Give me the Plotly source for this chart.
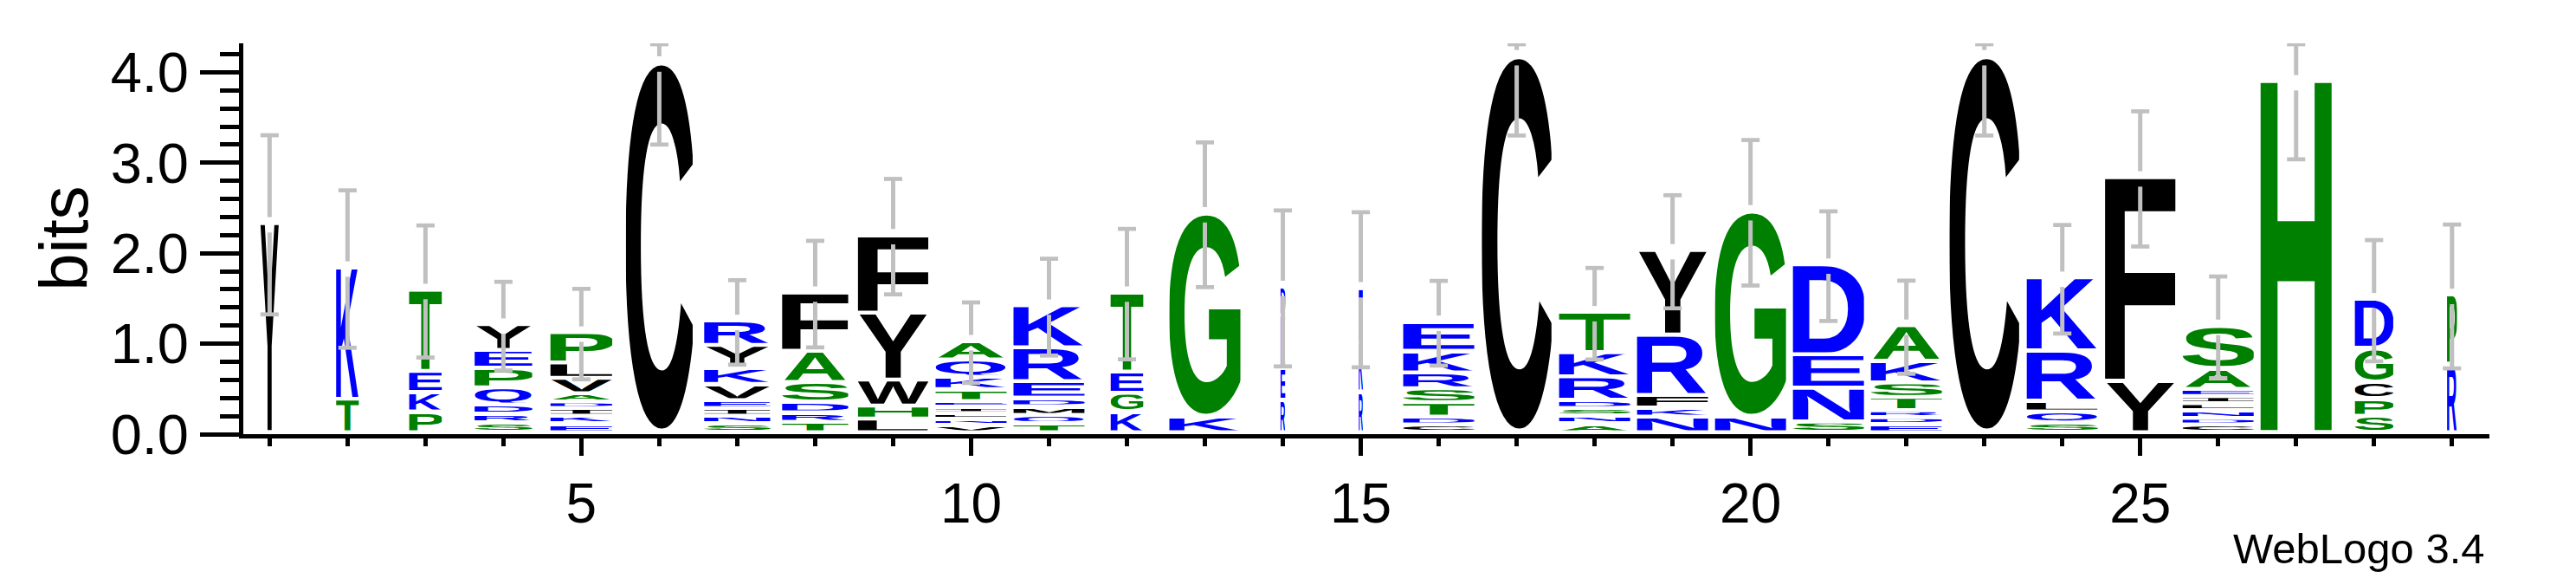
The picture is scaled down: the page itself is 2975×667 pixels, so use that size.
import base64
import plotly.graph_objects as go

# ---------------- data ----------------
positions = list(range(1, 30))
# letters of each stack, bottom -> top
stack_letters = ["Y", "TK", "PKET", "SRDQPEY", "EKIDAVLP", "C", "SNIEVKYR", "TRDSAF",
                 "LHWYF", "VNLIETKQA", "TQMDERK", "KGET", "KG", "REKD", "RKE", "CDTSRKE",
                 "C", "ANSDRKT", "NKFRY", "NG", "SNED", "EDRTSKA", "C", "SQLRK", "YF",
                 "CDNLIEAS", "H", "SPCGD", "RP"]
# letter heights in bits, bottom -> top
stack_heights = [
    [2.314],
    [0.370, 1.455],
    [0.230, 0.214, 0.233, 0.900],
    [0.109, 0.096, 0.102, 0.188, 0.214, 0.201, 0.284],
    [0.096, 0.086, 0.086, 0.073, 0.089, 0.172, 0.169, 0.335],
    [4.091],
    [0.096, 0.086, 0.086, 0.086, 0.179, 0.176, 0.255, 0.271],
    [0.115, 0.105, 0.115, 0.220, 0.345, 0.648],
    [0.150, 0.144, 0.287, 0.740, 0.862],
    [0.080, 0.064, 0.067, 0.067, 0.067, 0.131, 0.137, 0.191, 0.207],
    [0.102, 0.089, 0.096, 0.096, 0.182, 0.373, 0.466],
    [0.230, 0.207, 0.233, 0.878],
    [0.172, 2.253],
    [0.357, 0.351, 0.590, 0.313],
    [0.450, 0.550, 0.596],
    [0.086, 0.086, 0.160, 0.153, 0.176, 0.239, 0.326],
    [4.161],
    [0.096, 0.086, 0.086, 0.089, 0.262, 0.265, 0.447],
    [0.172, 0.102, 0.137, 0.670, 0.935],
    [0.172, 2.275],
    [0.118, 0.373, 0.370, 0.996],
    [0.089, 0.077, 0.077, 0.147, 0.160, 0.239, 0.393],
    [4.161],
    [0.108, 0.121, 0.121, 0.555, 0.807],
    [0.571, 2.250],
    [0.086, 0.073, 0.083, 0.080, 0.077, 0.080, 0.230, 0.472],
    [3.884],
    [0.182, 0.191, 0.182, 0.377, 0.543],
    [0.756, 0.766],
]
# fraction of sequences occupied (stack width scaling)
column_widths = [0.27, 0.32, 0.46, 0.81, 0.87, 0.94, 0.93, 0.93, 0.99, 1.0, 1.0, 0.46, 1.0,
                 0.07, 0.06, 1.0, 0.98, 1.0, 1.0, 1.0, 1.0, 1.0, 0.98, 1.0, 0.99, 1.0, 1.0,
                 0.54, 0.14]
# error bar half-lengths (bits)
error_half = [0.99, 0.87, 0.73, 0.49, 0.50, 0.89, 0.467, 0.589, 0.638, 0.445, 0.535, 0.721,
              0.80, 0.862, 0.857, 0.468, 0.86, 0.506, 0.625, 0.804, 0.606, 0.515, 0.86, 0.60,
              0.747, 0.562, 0.846, 0.67, 0.795]

x_tick_values = [5, 10, 15, 20, 25]
y_tick_values = [0, 1, 2, 3, 4]
y_minor_values = [round(0.2 * i, 1) for i in range(0, 22)]

# ---------------- styles ----------------
BLUE, GREEN, BLACK = "#0000ff", "#008000", "#000000"
colour_of = {}
for c in "RKDENQ":
    colour_of[c] = BLUE
for c in "SGHTAP":
    colour_of[c] = GREEN
for c in "YVMCLFIW":
    colour_of[c] = BLACK

FULL_W = 0.911      # full stack width in position units
GAP = 0.043         # gap below each glyph (bits)
YMAX = 4.32
ERR_MAX = 4.31
ERR_GAP = 0.085
CAP_HALF = 0.117
FONT = "Liberation Sans, Arial, Helvetica, sans-serif"

# glyph ink bounds in font units (left, right, bottom, top) for Liberation Sans Bold
CAP, RT, RB = 688, 701, -13
bounds = {
    "A": (0, 722, 0, CAP), "C": (44, 680, RB, RT), "D": (74, 669, 0, CAP),
    "E": (74, 613, 0, CAP), "F": (74, 564, 0, CAP), "G": (44, 712, RB, RT),
    "H": (74, 648, 0, CAP), "K": (74, 724, 0, CAP), "L": (74, 583, 0, CAP),
    "M": (70, 763, 0, CAP), "N": (72, 649, 0, CAP), "P": (74, 620, 0, CAP),
    "Q": (40, 745, -55, RT), "R": (74, 720, 0, CAP), "S": (32, 621, RB, RT),
    "T": (22, 589, 0, CAP), "V": (0, 667, 0, CAP), "W": (3, 942, 0, CAP),
    "Y": (0, 667, 0, CAP),
}
_cache = {}


def glyph_uri(ch, colour):
    key = (ch, colour)
    if key in _cache:
        return _cache[key]
    if ch == "I":
        body = (f'<svg xmlns="http://www.w3.org/2000/svg" viewBox="0 0 100 100" '
                f'preserveAspectRatio="none" width="100" height="100">'
                f'<rect x="0" y="0" width="100" height="14" fill="{colour}"/>'
                f'<rect x="36" y="0" width="28" height="100" fill="{colour}"/>'
                f'<rect x="0" y="86" width="100" height="14" fill="{colour}"/></svg>')
    else:
        l, r, b, t = bounds[ch]
        body = (f'<svg xmlns="http://www.w3.org/2000/svg" viewBox="{l} {-t} {r - l} {t - b}" '
                f'preserveAspectRatio="none" width="{r - l}" height="{t - b}">'
                f'<text x="0" y="0" font-family="{FONT}" font-weight="700" '
                f'font-size="1000" fill="{colour}">{ch}</text></svg>')
    uri = "data:image/svg+xml;base64," + base64.b64encode(body.encode()).decode()
    _cache[key] = uri
    return uri


images = []
err_x, err_y, cap_x, cap_y = [], [], [], []
for pos, letters, hts, frac, eh in zip(positions, stack_letters, stack_heights,
                                       column_widths, error_half):
    w = FULL_W * frac
    y0 = 0.0
    for ch, h in zip(letters, hts):
        top = y0 + h
        gh = h - GAP
        if gh > 0.002:
            images.append(dict(source=glyph_uri(ch, colour_of[ch]), xref="x", yref="y",
                               x=pos - w / 2, y=top, sizex=w, sizey=gh,
                               xanchor="left", yanchor="top", sizing="stretch",
                               layer="below"))
        y0 = top
    lo = y0 - eh
    hi = min(y0 + eh, ERR_MAX)
    err_x += [pos, pos, None]
    err_y += [lo, y0 - ERR_GAP, None]
    if hi > y0 + ERR_GAP:
        err_x += [pos, pos, None]
        err_y += [y0 + ERR_GAP, hi, None]
    for yy in (lo, hi):
        cap_x += [pos - CAP_HALF, pos + CAP_HALF, None]
        cap_y += [yy, yy, None]

fig = go.Figure()
fig.add_trace(go.Scatter(x=err_x, y=err_y, mode="lines", line=dict(color="#c0c0c0", width=5),
                         hoverinfo="skip", showlegend=False, cliponaxis=False))
fig.add_trace(go.Scatter(x=cap_x, y=cap_y, mode="lines", line=dict(color="#c0c0c0", width=4.7),
                         hoverinfo="skip", showlegend=False, cliponaxis=False))

L, R, T, B = 281.4, 100, 49.5, 166.3
fig.update_layout(
    width=2975, height=667,
    margin=dict(l=L, r=R, t=T, b=B, pad=0),
    paper_bgcolor="white", plot_bgcolor="white",
    images=images,
    showlegend=False,
    font=dict(family=FONT, color="black"),
    xaxis=dict(range=[0.663, 29.48], showgrid=False, zeroline=False,
               showline=True, linecolor="black", linewidth=4.5,
               ticks="outside", tickvals=x_tick_values, ticklen=20, tickwidth=4.7,
               tickcolor="black", tickfont=dict(size=64, family=FONT),
               minor=dict(tickvals=positions, ticks="outside", ticklen=9, tickwidth=4.7,
                          tickcolor="black", showgrid=False)),
    yaxis=dict(range=[0, YMAX], showgrid=False, zeroline=False,
               showline=True, linecolor="black", linewidth=5,
               ticks="outside", tickvals=y_tick_values, ticklen=45, tickwidth=5,
               tickcolor="black", tickformat=".1f", tickfont=dict(size=65, family=FONT),
               minor=dict(tickvals=y_minor_values, ticks="outside", ticklen=22, tickwidth=5,
                          tickcolor="black", showgrid=False)),
    annotations=[
        dict(text="bits", textangle=-90, xref="paper", yref="paper",
             x=(73.75 - L) / (2975 - L - R), y=0.5, xanchor="center", yanchor="middle",
             showarrow=False, font=dict(size=78, family=FONT, color="black")),
        dict(text="WebLogo 3.4", xref="paper", yref="paper",
             x=(2872.5 - L) / (2975 - L - R), y=(667 - B - 633) / (667 - B - T),
             xanchor="right", yanchor="middle", showarrow=False,
             font=dict(size=49, family=FONT, color="black")),
    ],
)

fig.write_html("out.html", config={"displayModeBar": False},
               post_script="document.body.style.margin='0';document.body.style.overflow='hidden';")
